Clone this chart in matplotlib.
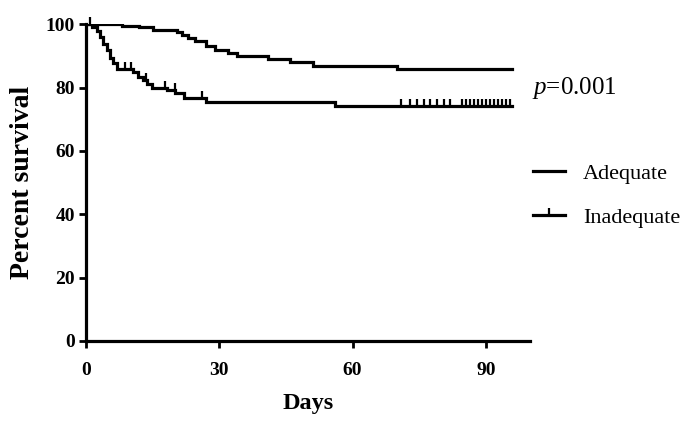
import matplotlib
matplotlib.use('Agg')
import matplotlib.pyplot as plt
from matplotlib.lines import Line2D

plt.rcParams['font.family'] = ['Liberation Serif', 'DejaVu Serif']
plt.rcParams['mathtext.fontset'] = 'custom'
plt.rcParams['mathtext.rm'] = 'Liberation Serif'
plt.rcParams['mathtext.it'] = 'Liberation Serif:italic'

# Kaplan-Meier steps (days, percent survival)
adequate_days = [0, 8, 12, 15, 20.5, 21.5, 23, 24.5, 27, 29, 32, 34, 41, 46, 51, 70]
adequate_surv = [100, 99.5, 99, 98.2, 97.6, 96.6, 95.6, 94.6, 93, 91.8, 91, 90, 89, 88, 86.8, 85.8]
adequate_end = 96

inadequate_days = [0, 1.3, 2.4, 3.2, 3.9, 4.7, 5.4, 6.1, 6.9, 10.6, 11.8, 12.9, 13.8,
                   14.9, 18.3, 20.1, 22, 26.9, 56]
inadequate_surv = [100, 99, 98, 96, 93.7, 91.8, 89.3, 87.7, 85.8, 84.9, 83.3, 82.3, 81,
                   79.8, 79.2, 78.2, 76.7, 75.4, 74.2]
inadequate_end = 96

# censored observations (ticks) on the inadequate curve
censor_days = [1.0, 8.8, 10.2, 13.5, 17.8, 20.0, 26.0, 71, 73, 74.5, 76, 77.5, 79, 80.5, 82,
               84.6, 85.5, 86.4, 87.3, 88.2, 89.1, 90.0, 91.0, 91.9, 92.8, 93.7, 94.6, 95.5]


def step_value(days, surv, t):
    v = surv[0]
    for d, s in zip(days, surv):
        if d <= t:
            v = s
    return v


fig = plt.figure(figsize=(6.94, 4.32), dpi=100)
ax = fig.add_axes([0.124, 0.211, 0.64, 0.733])

lw = 2.3
ax.step(adequate_days + [adequate_end], adequate_surv + [adequate_surv[-1]],
        where='post', color='black', lw=lw, solid_joinstyle='miter')
ax.step(inadequate_days + [inadequate_end], inadequate_surv + [inadequate_surv[-1]],
        where='post', color='black', lw=lw, solid_joinstyle='miter')

tick_marker = [(0, 0), (0, 1)]
censor_vals = [step_value(inadequate_days, inadequate_surv, t) for t in censor_days]
ax.plot(censor_days, censor_vals, ls='none', marker=tick_marker, ms=10,
        mec='black', mew=1.6, clip_on=False)

ax.set_xlim(0, 100)
ax.set_ylim(0, 100)
ax.set_xticks([0, 30, 60, 90])
ax.set_yticks([0, 20, 40, 60, 80, 100])
for s in ['top', 'right']:
    ax.spines[s].set_visible(False)
for s in ['left', 'bottom']:
    ax.spines[s].set_linewidth(2.3)
ax.tick_params(direction='out', length=5, width=2, labelsize=14, pad=3)
ax.tick_params(axis='x', pad=10)
for lab in ax.get_xticklabels() + ax.get_yticklabels():
    lab.set_fontweight('bold')

ax.set_xlabel('Days', fontsize=17.5, fontweight='bold', labelpad=10)
ax.set_ylabel('Percent survival', fontsize=20, fontweight='bold', labelpad=8)

fig.text(0.766, 0.797, '$p$=0.001', fontsize=18, va='center', ha='left')

handles = [Line2D([], [], color='black', lw=lw),
           Line2D([], [], color='black', lw=lw, marker=tick_marker, ms=10, mew=1.6)]
fig.legend(handles, ['Adequate', 'Inadequate'], loc='upper left',
           bbox_to_anchor=(0.768, 0.622), frameon=False, fontsize=16,
           handlelength=1.45, handletextpad=0.8, labelspacing=1.05,
           borderpad=0, borderaxespad=0)

fig.savefig('out.png', dpi=100)
